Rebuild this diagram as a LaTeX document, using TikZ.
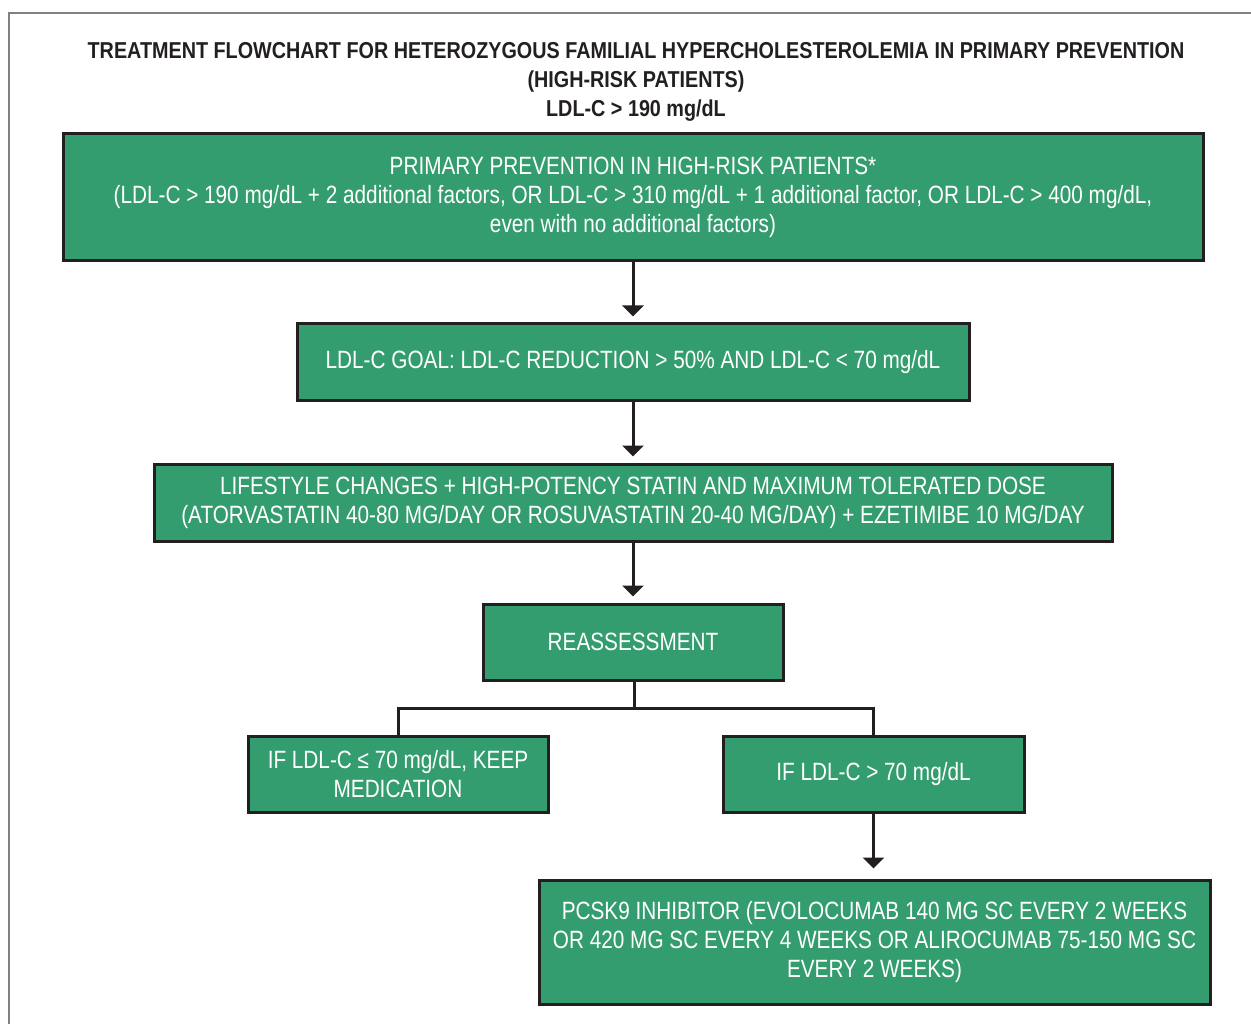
\documentclass[tikz,border=0pt]{standalone}
\usepackage{fontspec}
\setmainfont[FakeStretch=0.83]{Liberation Sans}
\newfontfamily\headfamily[FakeStretch=0.86]{Liberation Sans}
\usetikzlibrary{arrows.meta}
\definecolor{boxgreen}{RGB}{52,157,111}
\definecolor{edgedark}{RGB}{35,31,32}
\definecolor{framegray}{RGB}{128,128,128}
\newcommand{\boxfont}{\fontsize{25}{29}\selectfont}
\newcommand{\headfont}{\headfamily\fontsize{23}{29}\selectfont\bfseries}
\tikzset{
  stepbox/.style={draw=edgedark, line width=3pt, fill=boxgreen, text=white,
    inner sep=0pt, align=center, font=\boxfont},
  link/.style={draw=edgedark, line width=3pt},
  flow/.style={link, -{Triangle[width=21pt,length=11pt]}, shorten >=6pt}
}
\begin{document}
\begin{tikzpicture}[x=1pt,y=-1pt]
\useasboundingbox (0,0) rectangle (1251,1024);
% outer frame
\draw[framegray, line width=2pt] (1251,13) -- (9,13) -- (9,1024);
% heading
\node[align=center, font=\headfont, text=edgedark] (title) at (636,82)
  {TREATMENT FLOWCHART FOR HETEROZYGOUS FAMILIAL HYPERCHOLESTEROLEMIA IN PRIMARY PREVENTION\\
   (HIGH-RISK PATIENTS)\\ LDL-C > 190 mg/dL};
% boxes
\node[stepbox, minimum width=1140pt, minimum height=127pt] (b1) at (633,197.5)
  {PRIMARY PREVENTION IN HIGH-RISK PATIENTS*\\
   (LDL-C > 190 mg/dL + 2 additional factors, OR LDL-C > 310 mg/dL + 1 additional factor, OR LDL-C > 400 mg/dL,\\
   even with no additional factors)};
\node[stepbox, minimum width=672pt, minimum height=77pt] (b2) at (633,362.5)
  {LDL-C GOAL: LDL-C REDUCTION > 50\% AND LDL-C < 70 mg/dL};
\node[stepbox, minimum width=958pt, minimum height=77pt] (b3) at (633,502.5)
  {LIFESTYLE CHANGES + HIGH-POTENCY STATIN AND MAXIMUM TOLERATED DOSE\\
   (ATORVASTATIN 40-80 MG/DAY OR ROSUVASTATIN 20-40 MG/DAY) + EZETIMIBE 10 MG/DAY};
\node[stepbox, minimum width=300pt, minimum height=76pt] (b4) at (633,642)
  {REASSESSMENT};
\node[stepbox, minimum width=300pt, minimum height=76pt] (b5) at (398,774)
  {IF LDL-C ≤ 70 mg/dL, KEEP\\ MEDICATION};
\node[stepbox, minimum width=301pt, minimum height=76pt] (b6) at (873.5,774)
  {IF LDL-C > 70 mg/dL};
\node[stepbox, minimum width=671pt, minimum height=124pt] (b7) at (874.5,942)
  {PCSK9 INHIBITOR (EVOLOCUMAB 140 MG SC EVERY 2 WEEKS\\
   OR 420 MG SC EVERY 4 WEEKS OR ALIROCUMAB 75-150 MG SC\\
   EVERY 2 WEEKS)};
% connectors
\draw[flow] (b1) -- (b2);
\draw[flow] (b2) -- (b3);
\draw[flow] (b3) -- (b4);
\coordinate (split) at (634,708);
\draw[link] (b4.south -| split) -- (split);
\draw[link] (split) -| (b5.north);
\draw[link] (split) -| (b6.north);
\draw[flow, shorten >=10pt] (b6) -- (b7.north -| b6.south);
\end{tikzpicture}
\end{document}
